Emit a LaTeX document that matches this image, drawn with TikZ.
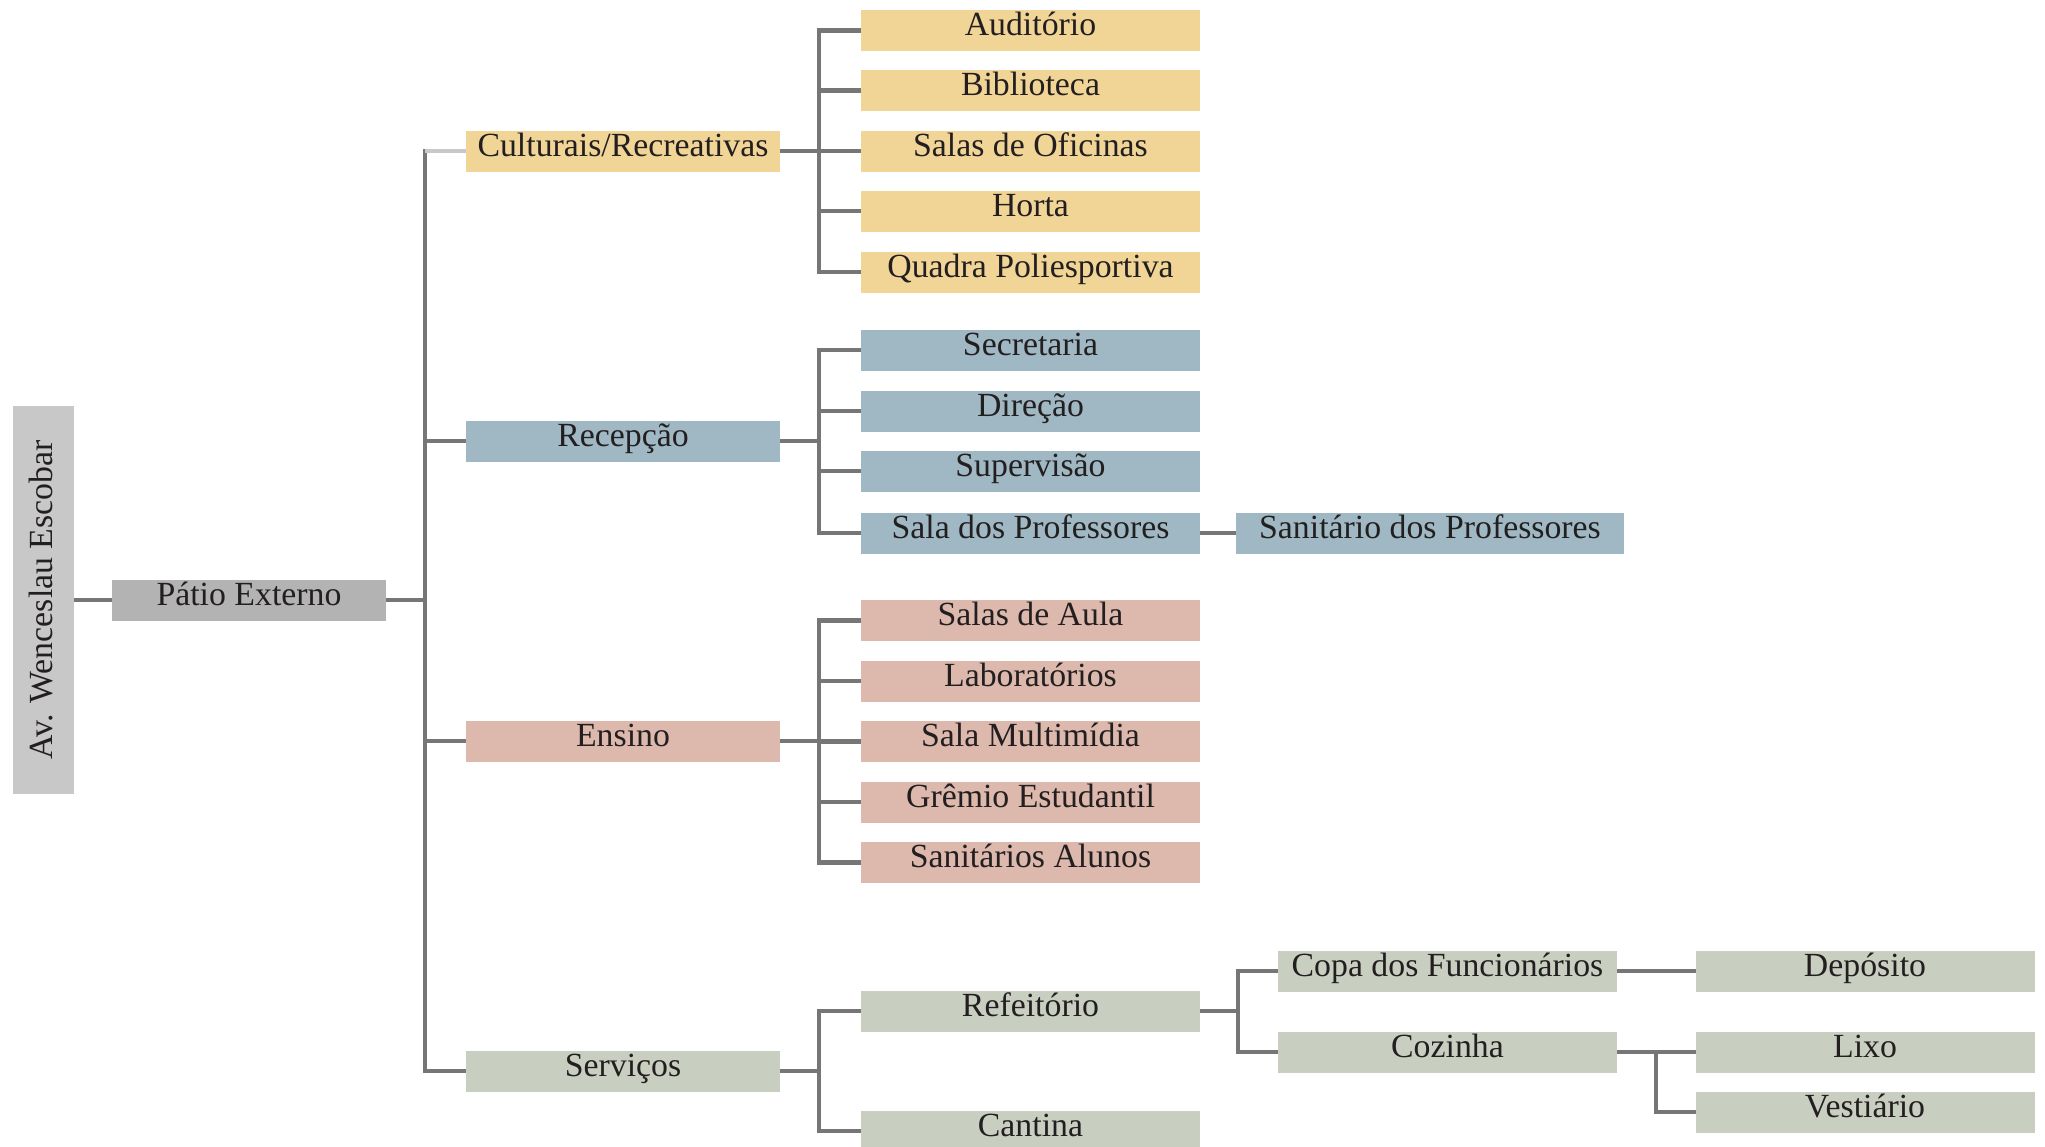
\documentclass[tikz,border=0pt]{standalone}
\usepackage{fontspec}
\setmainfont{Liberation Serif}
\definecolor{cyel}{HTML}{F0D596}
\definecolor{cblu}{HTML}{9FB8C4}
\definecolor{cpnk}{HTML}{DDB8AC}
\definecolor{cgrn}{HTML}{C9CFC0}
\definecolor{cpat}{HTML}{B3B3B3}
\definecolor{cav}{HTML}{C8C8C8}
\definecolor{cline}{HTML}{767676}
\definecolor{clight}{HTML}{C8C8C8}
\definecolor{ctxt}{HTML}{231F20}
\begin{document}
\begin{tikzpicture}[x=0.5pt,y=-0.5pt,
  bx/.style={inner sep=0pt, outer sep=0pt, minimum height=20.5pt, text height=12.5pt, text depth=7.5pt,
     font=\fontsize{16.9}{20}\selectfont, text=ctxt},
  lone/.style={bx, minimum width=157pt},
  ltwo/.style={bx, minimum width=169.5pt},
  conn/.style={draw=cline, line width=2.2pt},
  vconn/.style={conn, line cap=rect},
]
\useasboundingbox (0,0) rectangle (2045,1146);
% root
\node[inner sep=0pt, outer sep=0pt, rotate=90, minimum width=194pt, text height=19.5pt, text depth=11pt,
  fill=cav, font=\fontsize{16.9}{20}\selectfont, text=ctxt] (av) at (43.5,600) {Av. Wenceslau Escobar};
\node[bx, fill=cpat, minimum width=137pt] (pat) at (249,600) {Pátio Externo};
% level 1
\node[lone, fill=cyel] (cul) at (623,151) {Culturais/Recreativas};
\node[lone, fill=cblu] (rec) at (623,441) {Recepção};
\node[lone, fill=cpnk] (ens) at (623,741) {Ensino};
\node[lone, fill=cgrn] (ser) at (623,1071) {Serviços};
% culturais children
\node[ltwo, fill=cyel] (aud) at (1030.5,30.5) {Auditório};
\node[ltwo, fill=cyel] (bib) at (1030.5,90.5) {Biblioteca};
\node[ltwo, fill=cyel] (ofi) at (1030.5,151) {Salas de Oficinas};
\node[ltwo, fill=cyel] (hor) at (1030.5,211) {Horta};
\node[ltwo, fill=cyel] (qua) at (1030.5,272) {Quadra Poliesportiva};
% recepcao children
\node[ltwo, fill=cblu] (sec) at (1030.5,350) {Secretaria};
\node[ltwo, fill=cblu] (dir) at (1030.5,411) {Direção};
\node[ltwo, fill=cblu] (sup) at (1030.5,471) {Supervisão};
\node[ltwo, fill=cblu] (spr) at (1030.5,533) {Sala dos Professores};
\node[bx, fill=cblu, minimum width=194pt] (san) at (1430,533) {Sanitário dos Professores};
% ensino children
\node[ltwo, fill=cpnk] (aul) at (1030.5,620.5) {Salas de Aula};
\node[ltwo, fill=cpnk] (lab) at (1030.5,681) {Laboratórios};
\node[ltwo, fill=cpnk] (mul) at (1030.5,741.5) {Sala Multimídia};
\node[ltwo, fill=cpnk] (gre) at (1030.5,802) {Grêmio Estudantil};
\node[ltwo, fill=cpnk] (sal) at (1030.5,862.5) {Sanitários Alunos};
% servicos children
\node[ltwo, fill=cgrn] (ref) at (1030.5,1011) {Refeitório};
\node[ltwo, fill=cgrn] (can) at (1030.5,1131) {Cantina};
\node[ltwo, fill=cgrn] (cop) at (1447.5,971) {Copa dos Funcionários};
\node[ltwo, fill=cgrn] (coz) at (1447.5,1052) {Cozinha};
\node[ltwo, fill=cgrn] (dep) at (1865,971) {Depósito};
\node[ltwo, fill=cgrn] (lix) at (1865,1052) {Lixo};
\node[ltwo, fill=cgrn] (ves) at (1865,1112) {Vestiário};
% vertical bus positions
\coordinate (v0) at (425,0);
\coordinate (v1) at (819,0);
\coordinate (v2) at (1238,0);
\coordinate (v3) at (1656,0);
% connectors root
\draw[conn] (av.south) -- (pat.west);
\draw[conn] (pat.east) -- (pat.east -| v0);
\draw[vconn] (cul.west -| v0) -- (ser.west -| v0);
\draw[draw=clight, line width=2.2pt] (cul.west -| v0) -- (cul.west);
\foreach \n in {rec,ens,ser} \draw[conn] (\n.west -| v0) -- (\n.west);
% culturais
\draw[conn] (cul.east) -- (cul.east -| v1);
\draw[vconn] (aud.west -| v1) -- (qua.west -| v1);
\foreach \n in {aud,bib,ofi,hor,qua} \draw[conn] (\n.west -| v1) -- (\n.west);
% recepcao
\draw[conn] (rec.east) -- (rec.east -| v1);
\draw[vconn] (sec.west -| v1) -- (spr.west -| v1);
\foreach \n in {sec,dir,sup,spr} \draw[conn] (\n.west -| v1) -- (\n.west);
\draw[conn] (spr.east) -- (san.west);
% ensino
\draw[conn] (ens.east) -- (ens.east -| v1);
\draw[vconn] (aul.west -| v1) -- (sal.west -| v1);
\foreach \n in {aul,lab,mul,gre,sal} \draw[conn] (\n.west -| v1) -- (\n.west);
% servicos
\draw[conn] (ser.east) -- (ser.east -| v1);
\draw[vconn] (ref.west -| v1) -- (can.west -| v1);
\foreach \n in {ref,can} \draw[conn] (\n.west -| v1) -- (\n.west);
\draw[conn] (ref.east) -- (ref.east -| v2);
\draw[vconn] (cop.west -| v2) -- (coz.west -| v2);
\foreach \n in {cop,coz} \draw[conn] (\n.west -| v2) -- (\n.west);
\draw[conn] (cop.east) -- (dep.west);
\draw[conn] (coz.east) -- (lix.west);
\draw[vconn] (lix.west -| v3) -- (ves.west -| v3);
\draw[conn] (ves.west -| v3) -- (ves.west);
\end{tikzpicture}
\end{document}
